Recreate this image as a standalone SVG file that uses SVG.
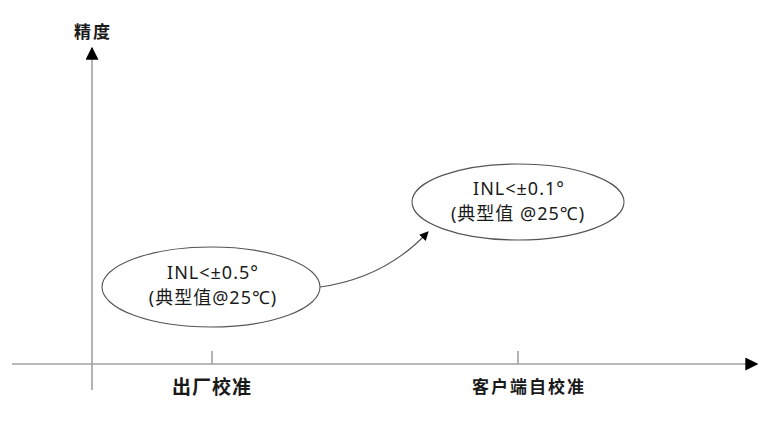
<svg xmlns="http://www.w3.org/2000/svg" width="775" height="432" viewBox="0 0 775 432">
<style>
.ax{stroke:#a0a0a0;stroke-width:1.6;fill:none}
.el{fill:#fff;stroke:#555;stroke-width:1.1}
.t{font-family:"Noto Sans","Noto Sans CJK SC",sans-serif;font-size:18px;letter-spacing:1px;fill:#1a1a1a;text-anchor:middle}
.lb{font-family:"Noto Sans CJK SC","Noto Sans",sans-serif;font-size:17px;letter-spacing:2px;font-weight:bold;fill:#1a1a1a;text-anchor:middle}
</style>
<defs>
<marker id="ah" viewBox="0 0 10 10" refX="9" refY="5" markerWidth="9" markerHeight="9" markerUnits="userSpaceOnUse" orient="auto"><path d="M0,0 L10,5 L0,10 z" fill="#000"/></marker>
<marker id="ab" viewBox="0 0 10 10" refX="9" refY="5" markerWidth="13" markerHeight="13" markerUnits="userSpaceOnUse" orient="auto"><path d="M0,0 L10,5 L0,10 z" fill="#000"/></marker>
</defs>
<g id="axes">
<line class="ax" x1="12" y1="364" x2="757" y2="364" marker-end="url(#ab)"/>
<line class="ax" x1="92" y1="390" x2="92" y2="48" marker-end="url(#ab)"/>
<line class="ax" x1="212" y1="351" x2="212" y2="364"/>
<line class="ax" x1="518" y1="351" x2="518" y2="364"/>
<text class="lb" x="93" y="38">精度</text>
<text class="lb" x="212" y="394" style="font-size:19px;letter-spacing:1px">出厂校准</text>
<text class="lb" x="529" y="393">客户端自校准</text>
</g>
<g id="connectors">
<path d="M320,287 Q385,278 428,232" fill="none" stroke="#555" stroke-width="1.1" marker-end="url(#ah)"/>
</g>
<g id="node1">
<ellipse class="el" cx="211" cy="287" rx="109" ry="40"/>
<text class="t" x="213" y="279">INL&lt;±0.5°</text>
<text class="t" x="213" y="304">(典型值@25℃)</text>
</g>
<g id="node2">
<ellipse class="el" cx="518" cy="202" rx="106" ry="38"/>
<text class="t" x="519" y="195">INL&lt;±0.1°</text>
<text class="t" x="518" y="220">(典型值 @25℃)</text>
</g>
</svg>
